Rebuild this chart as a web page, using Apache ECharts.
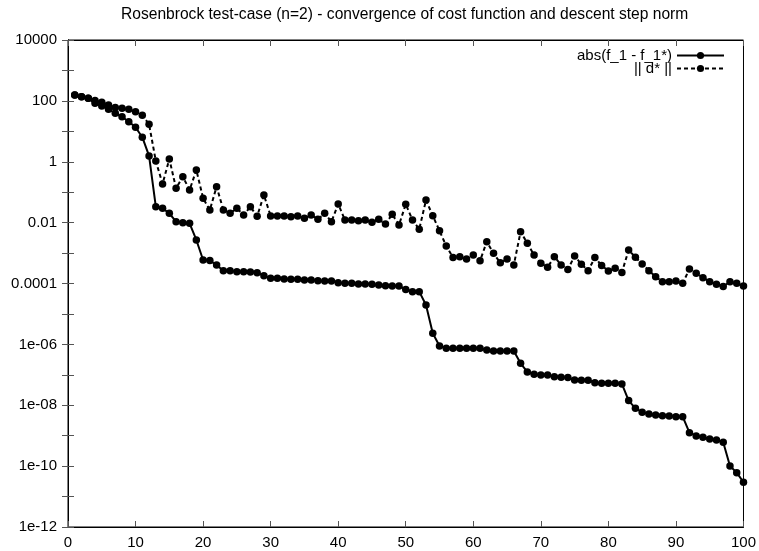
<!DOCTYPE html>
<html>
<head>
<meta charset="utf-8">
<script src="https://cdn.jsdelivr.net/npm/echarts@6/dist/echarts.min.js"></script>
<style>
  html, body { margin: 0; padding: 0; background: #fff; }
  #chart { width: 759px; height: 551px; }
</style>
</head>
<body>
<div id="chart"></div>
<script>
// iteration numbers 1..100
var iterations = [];
for (var k = 1; k <= 100; k++) iterations.push(k);

// abs(f_1 - f_1*)
var costValues = [
  156, 137, 121, 83, 68, 53, 39, 30, 20.7, 13.6,
  6.4, 1.55, 0.0334, 0.0295, 0.0203, 0.0107, 0.00995, 0.0095, 0.00269, 5.9e-4,
  5.65e-4, 4.06e-4, 2.64e-4, 2.64e-4, 2.44e-4, 2.44e-4, 2.38e-4, 2.27e-4, 1.81e-4, 1.48e-4,
  1.48e-4, 1.41e-4, 1.37e-4, 1.37e-4, 1.30e-4, 1.30e-4, 1.24e-4, 1.21e-4, 1.21e-4, 1.06e-4,
  1.01e-4, 1.01e-4, 9.6e-5, 9.6e-5, 9.4e-5, 8.9e-5, 8.5e-5, 8.3e-5, 8.3e-5, 6.4e-5,
  5.4e-5, 5.4e-5, 1.97e-5, 2.31e-6, 8.9e-7, 7.45e-7, 7.45e-7, 7.45e-7, 7.45e-7, 7.45e-7,
  7.45e-7, 6.5e-7, 6.07e-7, 6.07e-7, 6.07e-7, 6.07e-7, 2.39e-7, 1.24e-7, 1.04e-7, 9.9e-8,
  9.9e-8, 8.7e-8, 8.3e-8, 8.1e-8, 6.8e-8, 6.6e-8, 6.6e-8, 5.5e-8, 5.3e-8, 5.3e-8,
  5.3e-8, 5.0e-8, 1.42e-8, 7.9e-9, 5.9e-9, 5.2e-9, 4.8e-9, 4.56e-9, 4.45e-9, 4.2e-9,
  4.2e-9, 1.26e-9, 9.8e-10, 8.9e-10, 7.8e-10, 7.2e-10, 6.1e-10, 1.01e-10, 6.1e-11, 2.95e-11
];

// || d* ||
var stepValues = [
  156, 137, 121, 102, 90, 73, 61, 57, 53, 44,
  34, 17, 1.06, 0.186, 1.23, 0.134, 0.323, 0.118, 0.537, 0.063,
  0.026, 0.152, 0.026, 0.0203, 0.0295, 0.0178, 0.0334, 0.0161, 0.081, 0.0166,
  0.0166, 0.0166, 0.0157, 0.0166, 0.0138, 0.0178, 0.0128, 0.0203, 0.0107, 0.041,
  0.0122, 0.0122, 0.0116, 0.0122, 0.0102, 0.0128, 0.0090, 0.0188, 0.0084, 0.040,
  0.0122, 0.0061, 0.055, 0.0169, 0.0054, 0.0017, 7.1e-4, 7.6e-4, 6.4e-4, 8.6e-4,
  5.6e-4, 2.37e-3, 9.8e-4, 4.8e-4, 6.4e-4, 4.06e-4, 5.0e-3, 2.1e-3, 8.6e-4, 4.6e-4,
  3.4e-4, 7.6e-4, 4.06e-4, 2.9e-4, 8.0e-4, 4.3e-4, 2.64e-4, 7.1e-4, 3.9e-4, 2.58e-4,
  3.15e-4, 2.32e-4, 1.26e-3, 7.3e-4, 4.4e-4, 2.64e-4, 1.67e-4, 1.15e-4, 1.15e-4, 1.21e-4,
  1.01e-4, 3.0e-4, 2.17e-4, 1.55e-4, 1.15e-4, 9.4e-5, 7.9e-5, 1.15e-4, 1.01e-4, 8.3e-5
];

// y tick labels, from 1e4 down to 1e-12, one for every second decade
var yTickLabels = ['10000', '100', '1', '0.01', '0.0001', '1e-06', '1e-08', '1e-10', '1e-12'];
var seriesNames = ['abs(f_1 - f_1*)', '|| d* ||'];

function pairs(vals) {
  return vals.map(function (v, i) { return [iterations[i], v]; });
}

function yLabel(v) {
  var e = Math.round(Math.log(v) / Math.LN10);
  if (e % 2 !== 0) return '';
  return yTickLabels[(4 - e) / 2] || '';
}

var chart = echarts.init(document.getElementById('chart'));
var font = 'Liberation Sans, Arial, sans-serif';

var option = {
  animation: false,
  backgroundColor: '#fff',
  textStyle: { fontFamily: font },
  title: {
    text: 'Rosenbrock test-case (n=2) - convergence of cost function and descent step norm',
    left: 116,
    top: 2,
    textStyle: { fontSize: 15.6, fontWeight: 'normal', color: '#000', fontFamily: font }
  },
  legend: {
    orient: 'vertical',
    right: 34,
    top: 48,
    padding: 0,
    align: 'right',
    itemWidth: 47,
    itemHeight: 9,
    itemGap: -2,
    textStyle: { fontSize: 15, color: '#000', fontFamily: font },
    data: seriesNames
  },
  grid: {
    left: 68, right: 15, top: 40, bottom: 24,
    show: true, borderColor: '#000', borderWidth: 1
  },
  xAxis: [{
    type: 'value', min: 0, max: 100, interval: 10,
    axisLine: { show: true, lineStyle: { color: '#000' } },
    axisTick: { inside: true, length: 6, lineStyle: { color: '#555' } },
    axisLabel: { color: '#000', fontSize: 15, margin: 8 },
    splitLine: { show: false }
  }, {
    type: 'value', min: 0, max: 100, interval: 10, position: 'top',
    axisLine: { show: true, lineStyle: { color: '#000' } },
    axisTick: { inside: true, length: 6, lineStyle: { color: '#555' } },
    axisLabel: { show: false },
    splitLine: { show: false }
  }],
  yAxis: [{
    type: 'log', logBase: 10, min: 1e-12, max: 1e4, interval: 1,
    axisLine: { show: true, lineStyle: { color: '#000' } },
    axisTick: { inside: true, length: 6, lineStyle: { color: '#555' } },
    axisLabel: { color: '#000', fontSize: 15, margin: 11, formatter: yLabel, showMinLabel: true, showMaxLabel: true },
    splitLine: { show: false }
  }, {
    type: 'log', logBase: 10, min: 1e-12, max: 1e4, interval: 1, position: 'right',
    axisLine: { show: true, lineStyle: { color: '#000' } },
    axisTick: { inside: true, length: 6, lineStyle: { color: '#555' } },
    axisLabel: { show: false },
    splitLine: { show: false }
  }],
  series: [{
    name: seriesNames[0],
    type: 'line',
    data: pairs(costValues),
    symbol: 'circle',
    symbolSize: 7.5,
    itemStyle: { color: '#000' },
    lineStyle: { color: '#000', width: 2 }
  }, {
    name: seriesNames[1],
    type: 'line',
    data: pairs(stepValues),
    symbol: 'circle',
    symbolSize: 7.5,
    itemStyle: { color: '#000' },
    lineStyle: { color: '#000', width: 2, type: [4, 3] }
  }]
};

chart.setOption(option);
</script>
</body>
</html>
